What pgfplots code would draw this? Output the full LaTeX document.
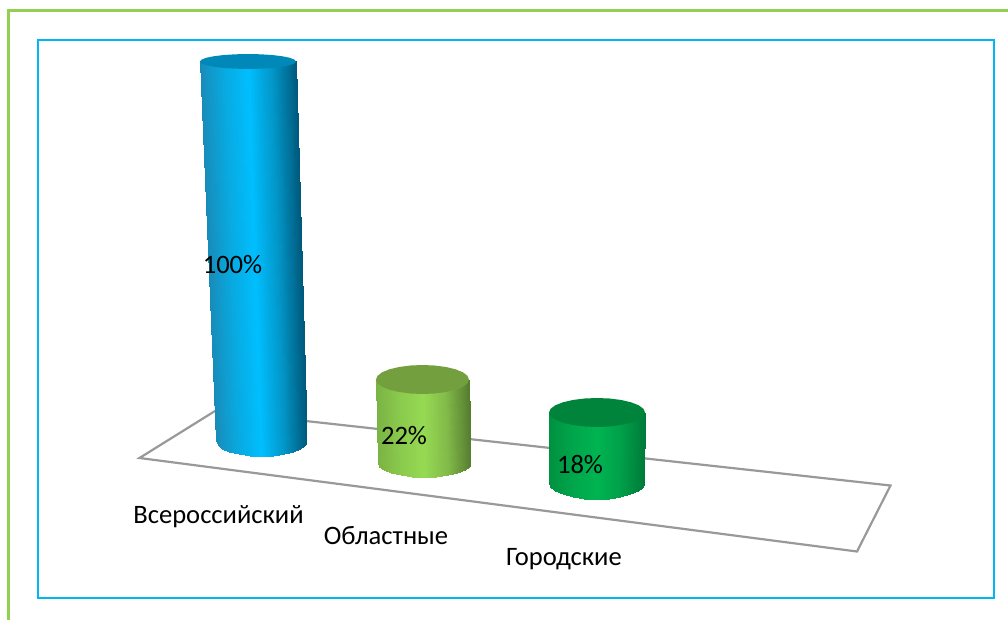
\documentclass[border=0pt]{standalone}
\usepackage{fontspec}
\setmainfont{Carlito}
\usepackage{pgfplots}
\pgfplotsset{compat=1.18}
\pgfplotsset{
  colormap={cblue}{rgb255=(24,140,185) rgb255=(8,170,225) rgb255=(0,191,255) rgb255=(2,150,200) rgb255=(0,90,125)},
  colormap={clime}{rgb255=(122,179,68) rgb255=(138,202,77) rgb255=(150,218,83) rgb255=(130,186,73) rgb255=(86,125,48)},
  colormap={cgreen}{rgb255=(0,144,64) rgb255=(0,166,75) rgb255=(0,180,81) rgb255=(0,160,73) rgb255=(0,122,57)},
}
\definecolor{framegreen}{HTML}{92D050}
\definecolor{frameblue}{HTML}{00B7F5}
\definecolor{floorgray}{HTML}{999999}

\begin{document}
\begin{tikzpicture}
\useasboundingbox (0,0) rectangle (1008pt,620pt);
\begin{axis}[
  width=1008pt, height=620pt, scale only axis,
  xmin=0, xmax=1008, ymin=0, ymax=620, y dir=reverse,
  hide axis,
  point meta min=0, point meta max=1,
  nodes={font=\fontsize{26.6}{30}\selectfont},
]
% frames
\addplot[framegreen, line width=3pt, forget plot] coordinates {(8.5,620) (8.5,10.5) (1008,10.5)};
\addplot[frameblue, line width=2.4pt, forget plot] coordinates {(38,40) (994,40) (994,598) (38,598)} --cycle;
% floor
\addplot[floorgray, line width=2.2pt, forget plot] coordinates {(139.5,458) (215,411) (890.5,485.5) (857,551.5)} --cycle;

% Всероссийский
\addplot[surf, shader=interp, colormap name=cblue, mesh/rows=2, point meta=explicit] table[meta=m] {
x y m
200 61.5 0
201.6 61.5 .017
206.4 62 .067
214.1 63 .146
224 64 .25
235.6 65 .37
248 65 .5
260.4 65 .63
272 64 .75
281.9 63 .854
289.6 62 .933
294.4 61.5 .983
296 61.5 1
216 441 0
217.55 444.9 .017
222.05 448.5 .067
229.25 451.6 .146
238.65 454 .25
249.55 455.5 .37
261.25 456 .5
272.95 455.5 .63
283.85 454 .75
293.25 451.6 .854
300.45 448.5 .933
304.95 444.9 .983
306.5 441 1
};
\addplot[fill={rgb,255:red,0;green,136;blue,184}, draw=none] coordinates {
(296,61.5)(294.4,63.4)(289.6,65.25)(281.9,66.8)(272,68)(260.4,68.7)(248,69)(235.6,68.7)(224,68)(214.1,66.8)(206.4,65.25)(201.6,63.4)(200,61.5)(201.6,59.6)(206.4,57.75)(214.1,56.2)(224,55)(235.6,54.3)(248,54)(260.4,54.3)(272,55)(281.9,56.2)(289.6,57.75)(294.4,59.6)
} --cycle;

% Областные
\addplot[surf, shader=interp, colormap name=clime, mesh/rows=2, point meta=explicit] table[meta=m] {
x y m
376 379.5 0
377.6 380 .017
382.2 382 .067
389.6 384 .146
399.25 386 .25
410.5 388 .37
422.5 388 .5
434.5 388 .63
445.75 386 .75
455.4 384 .854
462.8 382 .933
467.4 380 .983
469 379.5 1
377.75 463 0
379.35 466.6 .017
383.95 470 .067
391.35 472.9 .146
401 475.1 .25
412.25 476.5 .37
424.25 477 .5
436.25 476.5 .63
447.5 475.1 .75
457.15 472.9 .854
464.55 470 .933
469.15 466.6 .983
470.75 463 1
};
\addplot[fill={rgb,255:red,115;green,159;blue,62}, draw=none] coordinates {
(469,379.5)(467.4,383.25)(462.8,386.75)(455.4,389.75)(445.75,392.05)(434.5,393.5)(422.5,394)(410.5,393.5)(399.25,392.05)(389.6,389.75)(382.2,386.75)(377.6,383.25)(376,379.5)(377.6,375.75)(382.2,372.25)(389.6,369.25)(399.25,366.95)(410.5,365.5)(422.5,365)(434.5,365.5)(445.75,366.95)(455.4,369.25)(462.8,372.25)(467.4,375.75)
} --cycle;

% Городские
\addplot[surf, shader=interp, colormap name=cgreen, mesh/rows=2, point meta=explicit] table[meta=m] {
x y m
549 412.5 0
550.6 413 .017
555.4 415 .067
563.1 417 .146
573 419 .25
584.6 421 .37
597 421 .5
609.4 421 .63
621 419 .75
630.9 417 .854
638.6 415 .933
643.4 413 .983
645 412.5 1
548.75 483 0
550.4 487.1 .017
555.15 491 .067
562.75 494.3 .146
572.6 496.9 .25
584.1 498.5 .37
596.5 499 .5
608.9 498.5 .63
620.4 496.9 .75
630.25 494.3 .854
637.85 491 .933
642.6 487.1 .983
644.25 483 1
};
\addplot[fill={rgb,255:red,0;green,132;blue,60}, draw=none] coordinates {
(645,412.5)(643.4,416.25)(638.6,419.75)(630.9,422.75)(621,425.05)(609.4,426.5)(597,427)(584.6,426.5)(573,425.05)(563.1,422.75)(555.4,419.75)(550.6,416.25)(549,412.5)(550.6,408.75)(555.4,405.25)(563.1,402.25)(573,399.95)(584.6,398.5)(597,398)(609.4,398.5)(621,399.95)(630.9,402.25)(638.6,405.25)(643.4,408.75)
} --cycle;

% подписи
\node at (axis cs:232.5,265) {100\%};
\node at (axis cs:404,436) {22\%};
\node at (axis cs:580,465) {18\%};
\node at (axis cs:218.5,516.5) {Всероссийский};
\node at (axis cs:386,535.5) {Областные};
\node at (axis cs:564,559) {Городские};
\end{axis}
\end{tikzpicture}
\end{document}
